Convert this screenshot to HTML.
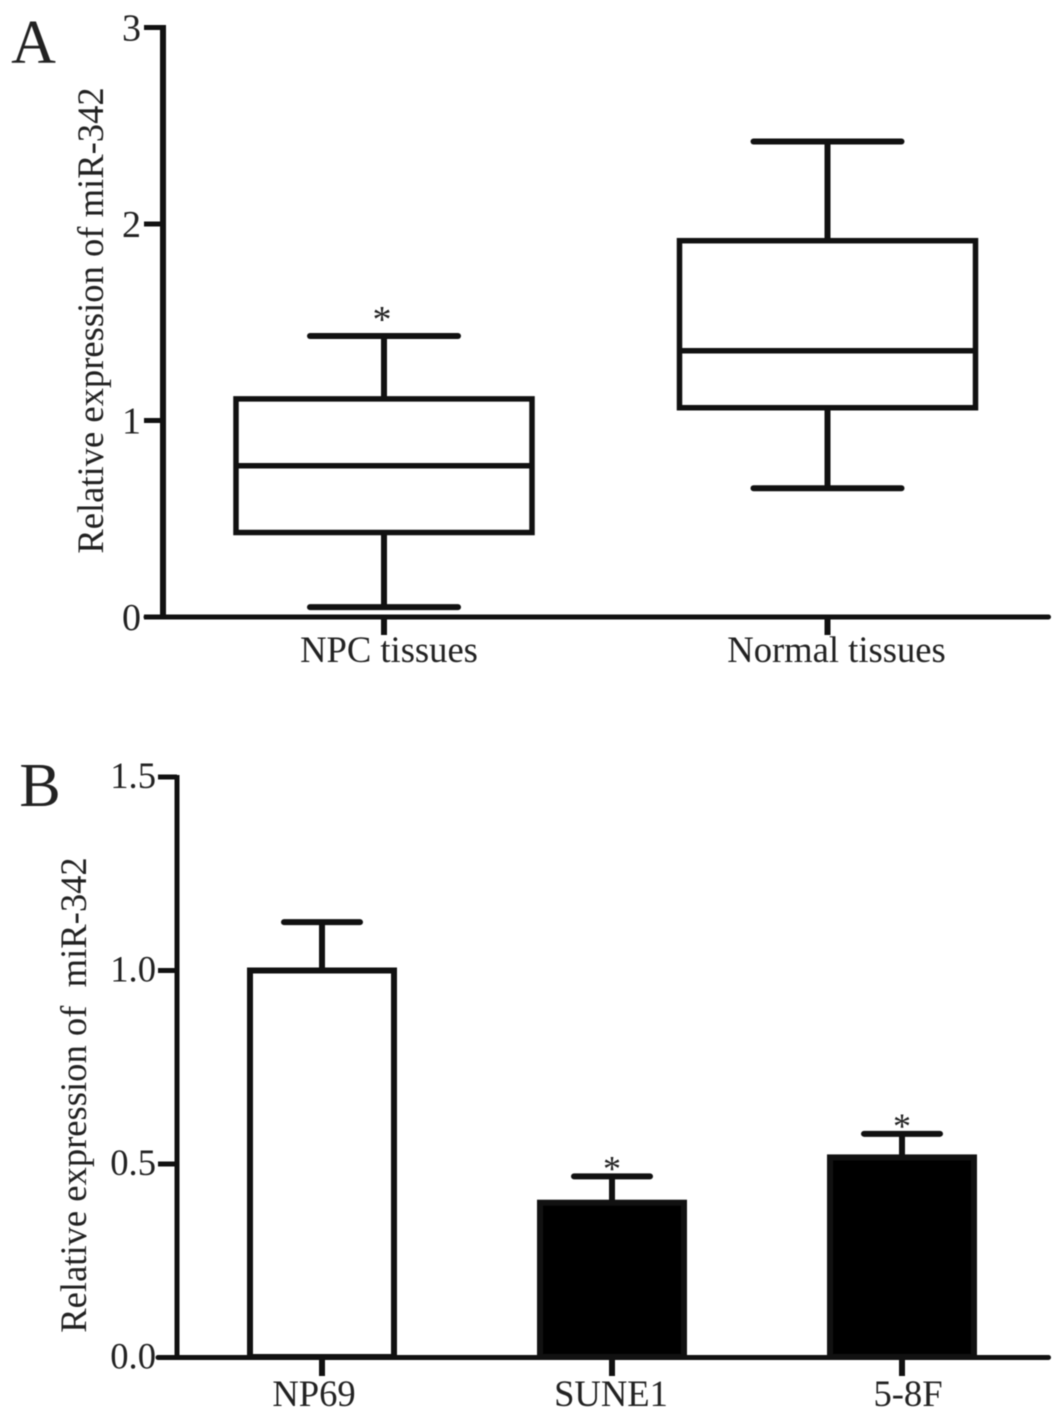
<!DOCTYPE html>
<html>
<head>
<meta charset="utf-8">
<style>
html,body{margin:0;padding:0;background:#fff;width:1063px;height:1422px;overflow:hidden}
svg{display:block;filter:blur(0.6px)}
text{font-family:"Liberation Serif",serif;fill:#222}
</style>
</head>
<body>
<svg id="fig" xmlns="http://www.w3.org/2000/svg" width="1063" height="1422" viewBox="0 0 1063 1422"></svg>
<script>
// Panel A data
const boxCategories = ["NPC tissues", "Normal tissues"];
const boxMin = [0.05, 0.655];
const boxQ1 = [0.43, 1.065];
const boxMedian = [0.77, 1.355];
const boxQ3 = [1.11, 1.915];
const boxMax = [1.43, 2.42];
const boxStars = ["*", ""];
const boxTicks = [0, 1, 2, 3];
const boxTickLabels = ["0", "1", "2", "3"];

// Panel B data
const barCategories = ["NP69", "SUNE1", "5-8F"];
const barValues = [1.0, 0.40, 0.517];
const barErrors = [0.125, 0.068, 0.061];
const barFilled = [false, true, true];
const barStars = ["", "*", "*"];
const barTicks = [0, 0.5, 1.0, 1.5];
const barTickLabels = ["0.0", "0.5", "1.0", "1.5"];

const NS = "http://www.w3.org/2000/svg";
const svg = document.getElementById("fig");
const INK = "#111";

function line(x1, y1, x2, y2, w, cap) {
  const el = document.createElementNS(NS, "line");
  el.setAttribute("x1", x1);
  el.setAttribute("y1", y1);
  el.setAttribute("x2", x2);
  el.setAttribute("y2", y2);
  el.setAttribute("stroke", INK);
  el.setAttribute("stroke-width", w);
  el.setAttribute("stroke-linecap", cap || "butt");
  svg.appendChild(el);
  return el;
}
function rect(x, y, w, h, fill, sw) {
  const el = document.createElementNS(NS, "rect");
  el.setAttribute("x", x);
  el.setAttribute("y", y);
  el.setAttribute("width", w);
  el.setAttribute("height", h);
  el.setAttribute("fill", fill);
  el.setAttribute("stroke", INK);
  el.setAttribute("stroke-width", sw);
  svg.appendChild(el);
  return el;
}
function text(str, x, y, size, anchor, rotate) {
  const el = document.createElementNS(NS, "text");
  el.textContent = str;
  el.setAttribute("x", x);
  el.setAttribute("y", y);
  el.setAttribute("font-size", size);
  el.setAttribute("text-anchor", anchor || "middle");
  if (rotate) el.setAttribute("transform", "rotate(" + rotate + " " + x + " " + y + ")");
  svg.appendChild(el);
  return el;
}
function mark(el, name) {
  
  
  return el;
}

/* Panel A axes */
const yA = v => 617 - v / 3 * 589.5;
const xA = i => 384 + i * 443.5;
const axA = 163;
mark(text("A", 33.5, 63, 62), "panel-a-label");
mark(line(axA, 25, axA, 619, 6), "panel-a-y-axis");
mark(line(146, 617, 1048.5, 617, 5, "round"), "panel-a-x-axis");
boxTicks.forEach((t, i) => {
  mark(line(144, yA(t), axA, yA(t), 5), "panel-a-y-tick");
  mark(text(boxTickLabels[i], 141, yA(t) + 13, 38, "end"), "panel-a-y-tick-label");
});
mark(text("Relative expression of miR-342", 103, 320.5, 36.6, "middle", -90), "panel-a-y-axis-title");

boxCategories.forEach((c, i) => {
  const cx = xA(i);
  mark(line(cx, 617, cx, 635, 6), "panel-a-x-tick");
  mark(text(c, cx + (i ? 9 : 5), 662, 36.6), "panel-a-x-tick-label");
  mark(line(cx, yA(boxMax[i]), cx, yA(boxQ3[i]), 6), "box-upper-whisker");
  mark(line(cx, yA(boxQ1[i]), cx, yA(boxMin[i]), 6), "box-lower-whisker");
  mark(line(cx - 74, yA(boxMax[i]), cx + 74, yA(boxMax[i]), 6, "round"), "box-upper-cap");
  mark(line(cx - 74, yA(boxMin[i]), cx + 74, yA(boxMin[i]), 6, "round"), "box-lower-cap");
  mark(rect(cx - 148, yA(boxQ3[i]), 296, yA(boxQ1[i]) - yA(boxQ3[i]), "#fff", 5.5), "box-iqr");
  mark(line(cx - 148, yA(boxMedian[i]), cx + 148, yA(boxMedian[i]), 5.5), "box-median");
  if (boxStars[i]) mark(text(boxStars[i], cx - 2, yA(boxMax[i]) - 4, 38), "significance-star");
});

/* Panel B axes */
const yB = v => 1357.5 - v / 1.5 * 580.5;
const xB = i => 322 + i * 290;
const axB = 177;
mark(text("B", 40, 806, 62), "panel-b-label");
mark(line(axB, 775, axB, 1360, 5), "panel-b-y-axis");
mark(line(158, 1357.5, 1048.5, 1357.5, 5, "round"), "panel-b-x-axis");
barTicks.forEach((t, i) => {
  mark(line(158, yB(t), axB, yB(t), 5), "panel-b-y-tick");
  mark(text(barTickLabels[i], 156, yB(t) + 11, 36.6, "end"), "panel-b-y-tick-label");
});
mark(text("Relative expression of\u00A0 miR-342", 86, 1095, 36.6, "middle", -90), "panel-b-y-axis-title");

barCategories.forEach((c, i) => {
  const cx = xB(i);
  mark(line(cx, 1357, cx, 1376, 6), "panel-b-x-tick");
  mark(text(c, cx - 8 + i * 7, 1406, 36.6), "panel-b-x-tick-label");
  const top = yB(barValues[i]);
  const errTop = yB(barValues[i] + barErrors[i]);
  mark(line(cx, errTop, cx, top, 6), "bar-error-stem");
  mark(line(cx - 38, errTop, cx + 38, errTop, 6, "round"), "bar-error-cap");
  mark(rect(cx - 72, top, 144, 1357 - top, barFilled[i] ? "#000" : "#fff", 6), "bar-" + c.toLowerCase());
  if (barStars[i]) mark(text(barStars[i], cx, errTop + 4, 36), "significance-star");
});
</script>
</body>
</html>
